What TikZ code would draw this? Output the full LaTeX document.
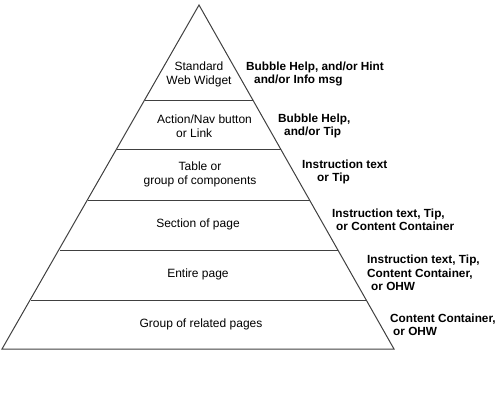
\documentclass[tikz,border=0pt]{standalone}
\usepackage{fontspec}
\setmainfont{Liberation Sans}
\begin{document}
\begin{tikzpicture}[x=1pt, y=-1pt,
  edge/.style={black!75, line width=1pt},
  level/.style={inner sep=0pt, align=center, font=\fontsize{12}{14}\selectfont},
  hint/.style={inner sep=0pt, anchor=west, align=left, font=\fontsize{11.8}{13.5}\selectfont\bfseries}]

\useasboundingbox (0,0) rectangle (500,400);

% pyramid outline
\draw[edge] (199,5) -- (394,349) -- (2,349) -- cycle;

% level dividers
\draw[edge] (145,100) -- (253,100);
\draw[edge] (117,149) -- (281,149);
\draw[edge] (88,200) -- (310,200);
\draw[edge] (60,250) -- (338,250);
\draw[edge] (31,300) -- (367,300);

% levels
\node[level] (widget) at (199,74) {Standard\\Web Widget};
\node[level, anchor=west, align=left] (button) at (157,126) {Action/Nav button\\\hspace{19pt}or Link};
\node[level] (table) at (200,174) {Table or\\group of components};
\node[level] (section) at (198,224) {Section of page};
\node[level] (page) at (198,274) {Entire page};
\node[level] (group) at (201,324) {Group of related pages};

% help types
\node[hint] (hwidget) at (246,74) {Bubble Help, and/or Hint\\\hspace{8pt}and/or Info msg};
\node[hint] (hbutton) at (278,126) {Bubble Help,\\\hspace{6pt}and/or Tip};
\node[hint] (htable) at (302,172) {Instruction text\\\hspace{15pt}or Tip};
\node[hint] (hsection) at (332,220) {Instruction text, Tip,\\\hspace{4pt}or Content Container};
\node[hint] (hpage) at (367,273) {Instruction text, Tip,\\Content Container,\\\hspace{4pt}or OHW};
\node[hint] (hgroup) at (390,325) {Content Container,\\\hspace{3pt}or OHW};

\end{tikzpicture}
\end{document}
